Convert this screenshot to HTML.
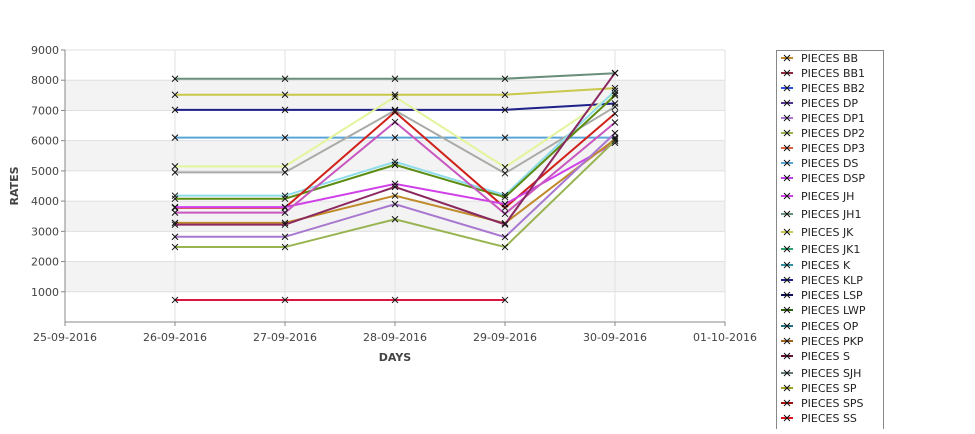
<!DOCTYPE html>
<html><head><meta charset="utf-8"><style>
body{margin:0;background:#fff;font-family:"Liberation Sans",sans-serif;}
svg text{font-family:"DejaVu Sans","Liberation Sans",sans-serif;}
</style></head><body>
<svg width="975" height="429" id="c"></svg>
<script>
const categories=["25-09-2016","26-09-2016","27-09-2016","28-09-2016","29-09-2016","30-09-2016","01-10-2016"];
const yTicks=[1000,2000,3000,4000,5000,6000,7000,8000,9000];
const seriesNames=["s1","s2","s3","s4","s5","s6","s7","s8","s9","s10","s11","s12","s13","s14","s15","s16"];
const seriesColors=["#6a8f7c","#c8c84a","#1f1f8a","#5aa5d8","#e2f59a","#a8aba6","#8fdcea","#5a8c10","#d0201a","#d040e8","#c858c0","#c08a2a","#8a2860","#a878d0","#98b450","#d81840"];
const v1=[8050,8050,8050,8050,8230];
const v2=[7520,7520,7520,7520,7740];
const v3=[7020,7020,7020,7020,7230];
const v4=[6100,6100,6100,6100,6100];
const v5=[5150,5150,7450,5120,7560];
const v6=[4950,4950,7000,4920,7120];
const v7=[4180,4180,5300,4200,7650];
const v8=[4080,4080,5200,4130,7500];
const v9=[3780,3780,6950,3780,6900];
const v10=[3800,3800,4570,3900,5930];
const v11=[3620,3620,6620,3580,6600];
const v12=[3280,3280,4180,3270,6050];
const v13=[3220,3220,4470,3230,8240];
const v14=[2820,2820,3900,2810,6250];
const v15=[2480,2480,3400,2480,6000];
const v16=[730,730,730,730];
const seriesValues=[v1,v2,v3,v4,v5,v6,v7,v8,v9,v10,v11,v12,v13,v14,v15,v16];
const legendNames=["PIECES BB","PIECES BB1","PIECES BB2","PIECES DP","PIECES DP1","PIECES DP2","PIECES DP3","PIECES DS","PIECES DSP","PIECES JH","PIECES JH1","PIECES JK","PIECES JK1","PIECES K","PIECES KLP","PIECES LSP","PIECES LWP","PIECES OP","PIECES PKP","PIECES S","PIECES SJH","PIECES SP","PIECES SPS","PIECES SS"];
const legendColors=["#c08a2a","#8a2840","#3050e0","#50308a","#a878d0","#98b450","#e06040","#5aa5d8","#c040f0","#d040e8","#6a8f7c","#c8c84a","#30a070","#3090a0","#1f1f8a","#10105a","#306010","#207080","#a06020","#601030","#607878","#a0a020","#a01010","#e01020"];
const legendY=[58,73,88,103,118,133,148,163,178,196,214,232,249,265,280,295,310,326,341,356,373,388,403,418];
const NS="http://www.w3.org/2000/svg";
const svg=document.getElementById('c');
const L=65,R=725,T=50,B=322;
const x=i=>L+i*(R-L)/6;
const y=v=>B-(v/9000)*(B-T);
function mk(t,a,p){const e=document.createElementNS(NS,t);for(const k in a)e.setAttribute(k,a[k]);(p||svg).appendChild(e);return e;}
// bands
for(let k=1;k<9;k+=2){const b=mk('rect',{x:L,y:y(k+1?(k+1)*1000:0),width:R-L,height:y(k*1000)-y((k+1)*1000),fill:'#f3f3f3'});

}
yTicks.forEach(v=>{const g=mk('line',{x1:L,x2:R,y1:y(v),y2:y(v),stroke:'#e0e0e0'});


const tk=mk('line',{x1:L-4,x2:L,y1:y(v),y2:y(v),stroke:'#888'});


const t=mk('text',{x:L-6,y:y(v)+4,'text-anchor':'end','font-size':11,fill:'#444'});t.textContent=v;

});
categories.forEach((c,i)=>{const g=mk('line',{x1:x(i),x2:x(i),y1:T,y2:B,stroke:'#e0e0e0'});


const tk=mk('line',{x1:x(i),x2:x(i),y1:B,y2:B+4,stroke:'#888'});


const t=mk('text',{x:x(i),y:B+19,'text-anchor':'middle','font-size':11,fill:'#444'});t.textContent=c;

});
const ax=mk('path',{d:`M${L},${T}V${B}H${R}`,fill:'none',stroke:'#888'});


const xt=mk('text',{x:395,y:361,'text-anchor':'middle','font-size':11,'font-weight':'bold',fill:'#444'});xt.textContent='DAYS';


const yt=mk('text',{x:18,y:186,'text-anchor':'middle','font-size':11,'font-weight':'bold',fill:'#444',transform:'rotate(-90 18 186)'});yt.textContent='RATES';


function cross(cx,cy,col,p){const d=3;const e=mk('path',{d:`M${cx-d},${cy-d}L${cx+d},${cy+d}M${cx-d},${cy+d}L${cx+d},${cy-d}`,stroke:col,'stroke-width':1},p);return e;}
seriesValues.forEach((vals,s)=>{
const g=mk('g',{});


const pts=vals.map((v,i)=>x(i+1)+','+y(v)).join(' ');
const pl=mk('polyline',{points:pts,fill:'none',stroke:seriesColors[s],'stroke-width':2},g);


vals.forEach((v,i)=>{const m=cross(x(i+1),y(v),'#111',g);

});
});
const lb=mk('rect',{x:776.5,y:50.5,width:107,height:390,fill:'#fff',stroke:'#888'});


legendNames.forEach((n,i)=>{const g=mk('g',{});


const yy=legendY[i];
mk('line',{x1:781,x2:793,y1:yy,y2:yy,stroke:legendColors[i],'stroke-width':2},g);
cross(787,yy,'#111',g);
const t=mk('text',{x:801,y:yy+4,'font-size':11,fill:'#222'},g);t.textContent=n;});
</script>
</body></html>
